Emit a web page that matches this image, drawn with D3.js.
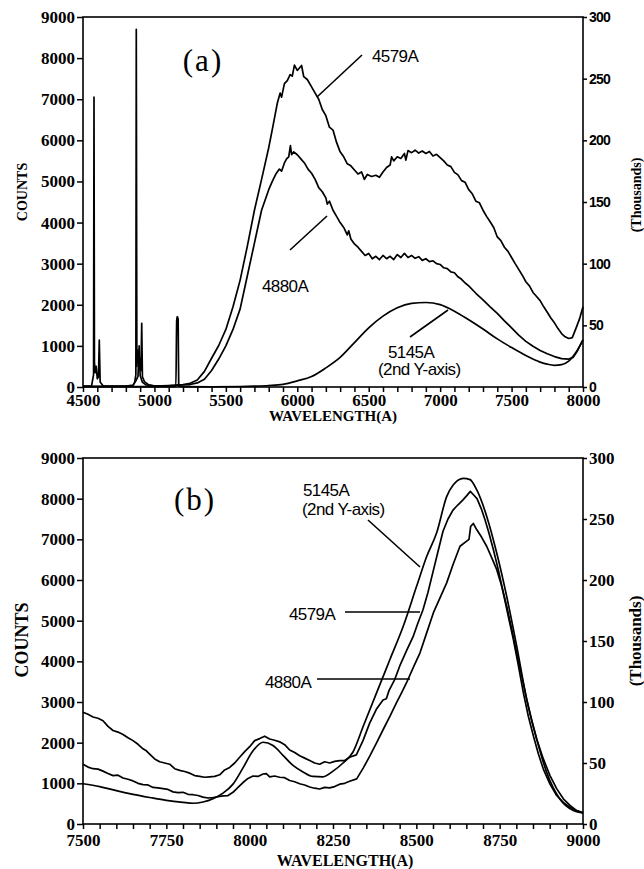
<!DOCTYPE html>
<html><head><meta charset="utf-8">
<script src="https://cdn.jsdelivr.net/npm/d3@7"></script>
<style>
  body { margin: 0; background: #fff; }
  svg text { fill: #000; }
</style></head>
<body>
<svg id="chart" width="644" height="869"></svg>
<script>
// ---------- Panel (a): emission spectra 4500-8000 A ----------
// [wavelength (A), counts]
const a4579 = [[4500,20],[4560,25],[4574,300],[4577,7050],[4580,600],[4586,350],[4592,500],[4600,200],[4608,250],[4614,1140],[4620,120],[4640,30],[4700,20],[4800,20],[4850,40],[4870,150],[4885,260],[4893,1000],[4900,280],[4915,120],[4940,50],[5000,30],[5050,25],[5100,35],[5150,45],[5200,60],[5250,90],[5300,170],[5350,380],[5400,700],[5450,1010],[5500,1400],[5550,1950],[5600,2600],[5650,3420],[5700,4300],[5750,5050],[5800,5820],[5830,6350],[5860,6900],[5880,7150],[5890,7050],[5910,7380],[5930,7450],[5950,7600],[5965,7560],[5980,7830],[6000,7700],[6015,7760],[6030,7820],[6045,7550],[6070,7480],[6100,7300],[6125,7150],[6150,7000],[6175,6750],[6200,6600],[6225,6320],[6250,6250],[6275,5950],[6300,5720],[6325,5600],[6350,5430],[6375,5380],[6400,5280],[6425,5180],[6450,5230],[6470,5050],[6490,5170],[6520,5120],[6550,5150],[6575,5100],[6600,5230],[6625,5340],[6650,5400],[6660,5600],[6675,5500],[6700,5600],[6725,5560],[6750,5680],[6760,5520],[6775,5750],[6800,5700],[6825,5760],[6850,5690],[6875,5740],[6900,5680],[6925,5730],[6950,5620],[6975,5660],[7000,5580],[7025,5500],[7050,5400],[7075,5360],[7100,5220],[7125,5160],[7150,5020],[7175,4980],[7200,4800],[7225,4700],[7250,4520],[7275,4480],[7300,4300],[7325,4150],[7350,4020],[7375,3880],[7400,3650],[7425,3560],[7450,3400],[7475,3300],[7500,3150],[7525,3000],[7550,2860],[7575,2720],[7600,2560],[7625,2460],[7650,2300],[7675,2200],[7700,2100],[7725,1950],[7750,1820],[7775,1680],[7800,1560],[7825,1420],[7850,1300],[7875,1220],[7900,1180],[7925,1200],[7950,1420],[7975,1650],[8000,1950]];

const a4880 = [[4500,15],[4700,15],[4800,20],[4850,40],[4862,120],[4870,300],[4873,8700],[4877,500],[4884,900],[4890,600],[4898,700],[4906,400],[4911,1550],[4916,250],[4930,130],[4960,50],[5000,25],[5100,30],[5150,40],[5200,50],[5250,60],[5300,100],[5350,190],[5400,400],[5450,680],[5500,1000],[5550,1400],[5600,1900],[5650,2700],[5700,3500],[5750,4300],[5800,4800],[5825,5000],[5850,5180],[5875,5300],[5890,5250],[5910,5450],[5925,5550],[5940,5600],[5952,5870],[5960,5650],[5975,5720],[6000,5650],[6025,5550],[6050,5450],[6075,5300],[6100,5200],[6125,5050],[6150,4850],[6175,4750],[6200,4600],[6210,4450],[6225,4520],[6250,4300],[6275,4150],[6300,4000],[6325,3880],[6350,3700],[6360,3800],[6375,3600],[6400,3480],[6425,3400],[6450,3300],[6475,3200],[6500,3250],[6525,3120],[6550,3180],[6575,3100],[6600,3200],[6625,3120],[6650,3180],[6675,3100],[6700,3220],[6725,3150],[6750,3250],[6775,3150],[6800,3200],[6825,3130],[6850,3170],[6875,3080],[6900,3120],[6925,3050],[6950,3070],[6975,3000],[7000,2980],[7025,2900],[7050,2880],[7075,2800],[7100,2780],[7125,2680],[7150,2620],[7175,2530],[7200,2460],[7250,2280],[7300,2120],[7350,1950],[7400,1790],[7450,1610],[7500,1440],[7550,1260],[7600,1110],[7650,990],[7700,890],[7750,810],[7800,740],[7850,690],[7900,680],[7930,720],[7960,870],[8000,1150]];

// [wavelength (A), thousands of counts] - plotted on the second Y axis
const a5145 = [[4500,0.3],[5100,0.3],[5150,0.5],[5156,54],[5160,57],[5166,55],[5170,0.6],[5200,0.3],[5400,0.2],[5600,0.4],[5700,0.7],[5800,1.2],[5900,2.2],[6000,5],[6100,8.5],[6200,15.5],[6300,24],[6400,36],[6500,48],[6600,57.5],[6700,64.3],[6800,67.8],[6900,68.5],[7000,66.8],[7100,61.5],[7200,54.5],[7300,47],[7400,39],[7500,32],[7600,25.5],[7700,20.2],[7750,18.5],[7800,17.6],[7850,18.2],[7900,21],[7950,28],[8000,38]];

// ---------- Panel (b): 7500-9000 A ----------
const b4579 = [[7500,2750],[7515,2700],[7530,2630],[7545,2600],[7560,2540],[7575,2400],[7590,2300],[7605,2260],[7620,2200],[7635,2120],[7650,2050],[7665,1960],[7680,1850],[7690,1800],[7700,1720],[7715,1600],[7730,1530],[7745,1500],[7760,1470],[7775,1360],[7790,1320],[7805,1290],[7820,1250],[7835,1190],[7850,1170],[7865,1150],[7880,1160],[7895,1170],[7910,1210],[7925,1330],[7940,1390],[7955,1500],[7970,1640],[7985,1780],[8000,1900],[8015,2050],[8030,2100],[8045,2160],[8060,2090],[8075,2060],[8090,2020],[8105,1950],[8120,1820],[8135,1760],[8150,1680],[8165,1620],[8180,1560],[8195,1500],[8210,1470],[8225,1530],[8240,1500],[8255,1540],[8270,1560],[8285,1560],[8300,1640],[8320,1700],[8340,2050],[8360,2480],[8380,2820],[8400,3050],[8410,3080],[8418,3280],[8435,3550],[8450,3880],[8470,4250],[8490,4600],[8505,4950],[8520,5270],[8535,5700],[8550,6200],[8565,6700],[8580,7200],[8595,7500],[8610,7720],[8625,7850],[8640,7970],[8652,8080],[8662,8180],[8672,8090],[8682,8000],[8695,7750],[8706,7480],[8718,7150],[8731,6750],[8746,6250],[8761,5680],[8776,5100],[8791,4540],[8806,3900],[8821,3230],[8836,2650],[8851,2170],[8866,1730],[8881,1350],[8901,980],[8921,700],[8941,530],[8961,410],[8980,330],[9000,270]];

const b4880 = [[7500,1470],[7515,1400],[7530,1360],[7545,1350],[7560,1300],[7575,1240],[7590,1190],[7605,1200],[7620,1130],[7635,1100],[7650,1060],[7665,1000],[7680,970],[7695,960],[7710,900],[7725,890],[7740,870],[7755,850],[7770,790],[7785,770],[7800,780],[7815,730],[7830,720],[7845,700],[7860,660],[7875,640],[7890,650],[7905,670],[7920,690],[7935,700],[7950,780],[7965,900],[7980,1020],[7995,1120],[8010,1180],[8025,1170],[8040,1230],[8050,1240],[8060,1160],[8075,1180],[8090,1150],[8105,1140],[8120,1070],[8135,1040],[8150,990],[8165,960],[8180,910],[8195,880],[8210,860],[8225,900],[8240,890],[8255,920],[8270,980],[8285,1000],[8300,1050],[8321,1110],[8341,1380],[8361,1680],[8381,2000],[8401,2330],[8421,2650],[8441,2990],[8456,3230],[8471,3480],[8491,3850],[8511,4210],[8531,4700],[8551,5190],[8571,5560],[8591,5930],[8611,6400],[8631,6830],[8650,6950],[8658,7000],[8663,7320],[8671,7390],[8681,7240],[8696,7050],[8711,6830],[8726,6550],[8741,6260],[8756,5850],[8771,5360],[8786,4800],[8801,4210],[8816,3650],[8831,3070],[8846,2550],[8861,2090],[8881,1600],[8901,1190],[8921,870],[8941,620],[8961,460],[8981,330],[9000,280]];

// thousands of counts (second Y axis)
const b5145 = [[7500,33],[7550,30.7],[7600,27.3],[7650,24.3],[7700,21.7],[7750,19.3],[7800,17.7],[7830,17],[7860,18],[7890,20.7],[7920,25.3],[7950,32.7],[7980,46],[8010,60],[8040,67],[8070,64.3],[8100,56.3],[8130,48],[8160,42.7],[8190,39],[8220,38.7],[8250,43.3],[8280,50],[8310,59],[8341,80.3],[8381,107.7],[8421,135],[8461,162.3],[8501,195],[8531,219.3],[8561,238.7],[8591,268.3],[8611,278],[8641,283.3],[8661,282.3],[8681,274],[8711,252.3],[8741,222.3],[8771,186.7],[8801,146],[8831,102.3],[8861,69.7],[8891,42.3],[8931,20.3],[8971,11],[9000,9]];

// Axis tick values
const countTicks = [0,1000,2000,3000,4000,5000,6000,7000,8000,9000];
const thousandTicks = [0,50,100,150,200,250,300];
const aWaveLabels = [4500,5000,5500,6000,6500,7000,7500,8000];
const bWaveLabels = [7500,7750,8000,8250,8500,8750,9000];

const svg = d3.select("#chart");
const SERIF = "'Liberation Serif','Times New Roman',serif";
const SANS = "'Liberation Sans',Arial,sans-serif";
const plain = d3.format("d");

function styleTicks(sel, family, size, spacing) {
  sel.attr("font-family", family);
  sel.selectAll("line").attr("stroke", "#000").attr("stroke-width", 1.5);
  sel.selectAll("text")
    .style("font-family", family).style("font-weight", "bold")
    .style("font-size", size + "px").style("letter-spacing", (spacing || 0) + "px")
    .style("fill", "#000");
}

function drawPanel(p) {
  const x = d3.scaleLinear().domain(p.xDomain).range([p.left, p.right]);
  const y = d3.scaleLinear().domain([0, 9000]).range([p.bottom, p.top]);
  const y2 = d3.scaleLinear().domain([0, 300]).range([p.bottom, p.top]);
  const g = svg.append("g");

  // frame
  g.append("rect").attr("x", p.left).attr("y", p.top)
    .attr("width", p.right - p.left).attr("height", p.bottom - p.top)
    .attr("fill", "none").attr("stroke", "#000").attr("stroke-width", 1.6);

  // bottom axis: minor ticks everywhere, labels on majors
  const minor = d3.range(p.xDomain[0], p.xDomain[1] + 1, p.minorStep);
  const xAxis = d3.axisBottom(x).tickValues(minor).tickSize(5).tickPadding(p.xPad).tickSizeOuter(0)
    .tickFormat(d => p.xLabels.includes(d) ? plain(d) : "");
  const gx = g.append("g").attr("transform", `translate(0,${p.bottom})`).call(xAxis);
  gx.select(".domain").remove();
  styleTicks(gx, SERIF, 17);

  // left axis
  const yAxis = d3.axisLeft(y).tickValues(countTicks).tickFormat(plain)
    .tickSize(6).tickPadding(2).tickSizeOuter(0);
  const gy = g.append("g").attr("transform", `translate(${p.left},0)`).call(yAxis);
  gy.select(".domain").remove();
  styleTicks(gy, SERIF, 17);

  // right (second) axis
  const y2Axis = d3.axisRight(y2).tickValues(thousandTicks).tickFormat(plain)
    .tickSize(4).tickPadding(2).tickSizeOuter(0);
  const gy2 = g.append("g").attr("transform", `translate(${p.right},0)`).call(y2Axis);
  gy2.select(".domain").remove();
  styleTicks(gy2, p.rightFont, p.rightSize, p.rightSpacing);

  // spectra
  const lineCounts = d3.line().x(d => x(d[0])).y(d => y(d[1]));
  const lineK = d3.line().x(d => x(d[0])).y(d => y2(d[1])).curve(d3.curveMonotoneX);
  p.counts.forEach(s => g.append("path").datum(s).attr("d", lineCounts)
    .attr("fill", "none").attr("stroke", "#000").attr("stroke-width", 1.7).attr("stroke-linejoin", "round"));
  p.thousands.forEach(s => g.append("path").datum(s).attr("d", lineK)
    .attr("fill", "none").attr("stroke", "#000").attr("stroke-width", 1.7));

  // axis titles
  g.append("text").attr("transform", `translate(${p.countsX},${p.countsY}) rotate(-90)`)
    .attr("text-anchor", "middle").attr("dy", "0.35em")
    .style("font-family", SERIF).style("font-weight", "bold").style("font-size", p.countsSize + "px").text("COUNTS");
  g.append("text").attr("transform", `translate(${p.thX},${p.thY}) rotate(-90)`)
    .attr("text-anchor", "middle").attr("dy", "0.35em")
    .style("font-family", SERIF).style("font-weight", "bold").style("font-size", p.thSize + "px").text("(Thousands)");
  g.append("text").attr("x", p.wlX).attr("y", p.wlY).attr("text-anchor", "middle")
    .style("font-family", SERIF).style("font-weight", "bold").style("font-size", p.wlSize + "px").text("WAVELENGTH(A)");

  // panel tag
  g.append("text").attr("x", p.tag[1]).attr("y", p.tag[2]).attr("text-anchor", "middle")
    .style("font-family", SERIF).style("font-size", "31px").style("letter-spacing", "2px").text(p.tag[0]);

  // series labels and pointer lines
  p.notes.forEach(n => {
    n.text.forEach(t => g.append("text").attr("x", t[1]).attr("y", t[2])
      .style("font-family", SANS).style("font-size", "17px").style("letter-spacing", "-0.6px").text(t[0]));
    g.append("line").attr("x1", n.line[0]).attr("y1", n.line[1]).attr("x2", n.line[2]).attr("y2", n.line[3])
      .attr("stroke", "#000").attr("stroke-width", 1.6);
  });
}

drawPanel({
  left: 83, right: 583, top: 17, bottom: 387,
  xDomain: [4500, 8000], minorStep: 100, xLabels: aWaveLabels, xPad: 2,
  rightFont: SANS, rightSize: 14, rightSpacing: -0.8,
  counts: [a4579, a4880], thousands: [a5145],
  countsX: 22, countsY: 192, countsSize: 14,
  thX: 636, thY: 195, thSize: 14,
  wlX: 333, wlY: 421, wlSize: 15,
  tag: ["(a)", 203, 71],
  notes: [
    { text: [["4579A", 372, 62]], line: [317, 97, 362, 55] },
    { text: [["4880A", 262, 292]], line: [290, 250, 327, 216] },
    { text: [["5145A", 388, 358], ["(2nd Y-axis)", 378, 375]], line: [410, 337, 448, 310] }
  ]
});

drawPanel({
  left: 83, right: 583, top: 458, bottom: 824,
  xDomain: [7500, 9000], minorStep: 50, xLabels: bWaveLabels, xPad: 5,
  rightFont: SERIF, rightSize: 17, rightSpacing: 0,
  counts: [b4579, b4880], thousands: [b5145],
  countsX: 22, countsY: 640, countsSize: 18,
  thX: 635, thY: 641, thSize: 17,
  wlX: 345, wlY: 866, wlSize: 16,
  tag: ["(b)", 195, 510],
  notes: [
    { text: [["5145A", 303, 496], ["(2nd Y-axis)", 302, 515]], line: [368, 520, 420, 567] },
    { text: [["4579A", 289, 620]], line: [345, 612, 420, 612] },
    { text: [["4880A", 265, 688]], line: [317, 679, 410, 679] }
  ]
});
</script>
</body></html>
